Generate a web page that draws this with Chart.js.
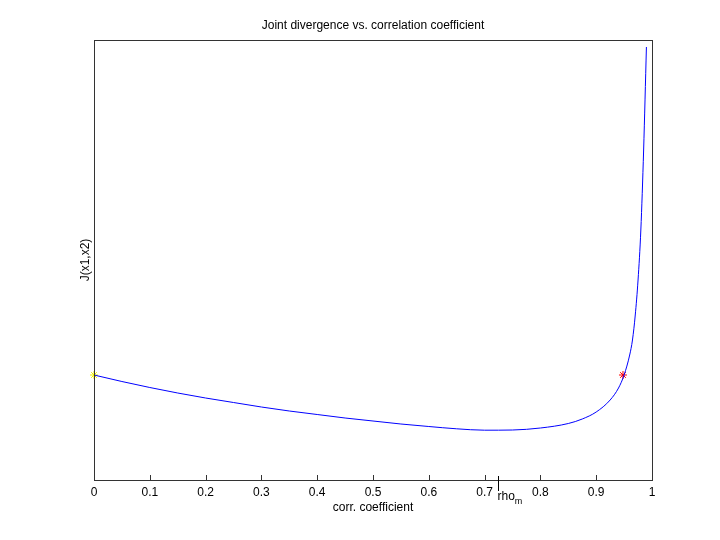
<!DOCTYPE html>
<html>
<head>
<meta charset="utf-8">
<title>Joint divergence vs. correlation coefficient</title>
<script src="https://cdn.jsdelivr.net/npm/chart.js@4/dist/chart.umd.min.js"></script>
<style>
  html, body { margin: 0; padding: 0; background: #fff; }
  canvas { display: block; }
</style>
</head>
<body>
<canvas id="chart" width="720" height="540"></canvas>
<script>
// correlation coefficient (x) and joint divergence J(x1,x2) (y, arbitrary units)
var rho = [0, 0.05, 0.1, 0.15, 0.2, 0.25, 0.3, 0.35, 0.4, 0.45, 0.5, 0.55, 0.6, 0.65, 0.7,
           0.75, 0.8, 0.85, 0.875, 0.9, 0.925, 0.94, 0.95, 0.96, 0.965, 0.97, 0.975, 0.98, 0.985, 0.99];
var jointDiv = [105, 98.5, 92.5, 87, 82, 77.5, 73, 69, 65.5, 62, 59, 56, 53.5, 51.2, 49.8,
                50, 52, 56.5, 61, 68, 80, 92, 105, 125, 140, 165, 200, 250, 330, 433];
var startMark = [{ x: 0, y: 105 }];
var equalMark = [{ x: 0.948, y: 105 }];
var rhoM = 0.724;
var xTickStep = 0.1;

var FONT = 'Helvetica, "Liberation Sans", Arial, sans-serif';

var linePoints = rho.map(function(r, i) { return { x: r, y: jointDiv[i] }; });

// box round the plot, inward ticks and the rho_m mark
var framePlugin = {
    id: 'frame',
    afterDraw: function(chart) {
        var ctx = chart.ctx;
        var a = chart.chartArea;
        var xs = chart.scales.x;
        ctx.save();
        ctx.strokeStyle = '#333';
        ctx.lineWidth = 1;
        ctx.strokeRect(Math.round(a.left) + 0.5, Math.round(a.top) + 0.5,
                       Math.round(a.right - a.left), Math.round(a.bottom - a.top));
        ctx.beginPath();
        xs.ticks.forEach(function(t, i) {
            var px = Math.round(xs.getPixelForTick(i)) + 0.5;
            ctx.moveTo(px, a.bottom);
            ctx.lineTo(px, a.bottom - 5);
        });
        ctx.stroke();

        var mx = Math.round(xs.getPixelForValue(rhoM)) + 0.5;
        ctx.strokeStyle = '#000';
        ctx.beginPath();
        ctx.moveTo(mx, a.bottom - 4);
        ctx.lineTo(mx, a.bottom + 11);
        ctx.stroke();
        ctx.fillStyle = '#000';
        ctx.textBaseline = 'middle';
        ctx.textAlign = 'left';
        ctx.font = '12px ' + FONT;
        ctx.fillText('rho', mx - 1, a.bottom + 17);
        var w = ctx.measureText('rho').width;
        ctx.font = '9px ' + FONT;
        ctx.fillText('m', mx - 1 + w, a.bottom + 22);
        ctx.restore();
    }
};

new Chart(document.getElementById('chart'), {
    type: 'line',
    data: {
        datasets: [{
            data: linePoints,
            borderColor: '#0000ff',
            borderWidth: 1,
            pointRadius: 0,
            fill: false,
            cubicInterpolationMode: 'monotone'
        }, {
            data: startMark,
            showLine: false,
            clip: false,
            pointStyle: 'star',
            pointRadius: 4,
            borderColor: '#f0f000',
            borderWidth: 1
        }, {
            data: equalMark,
            showLine: false,
            pointStyle: 'star',
            pointRadius: 4,
            borderColor: '#ff0000',
            borderWidth: 1
        }]
    },
    options: {
        responsive: false,
        animation: false,
        layout: { padding: { left: 0, right: 68, top: 0, bottom: 0 } },
        scales: {
            x: {
                type: 'linear',
                min: 0,
                max: 1,
                grid: { display: false, drawTicks: false },
                border: { display: false },
                ticks: {
                    stepSize: xTickStep,
                    padding: 5,
                    color: '#000',
                    font: { family: FONT, size: 12 },
                    callback: function(v) { return String(Number(v.toFixed(1))); }
                },
                title: {
                    display: true,
                    text: 'corr. coefficient',
                    color: '#000',
                    font: { family: FONT, size: 12 },
                    padding: { top: 0, bottom: 25 }
                },
                afterFit: function(s) { s.height = 60; }
            },
            y: {
                min: 0,
                max: 440,
                grid: { display: false, drawTicks: false },
                border: { display: false },
                ticks: { display: false },
                title: {
                    display: true,
                    text: 'J(x1,x2)',
                    color: '#000',
                    font: { family: FONT, size: 12 },
                    padding: { top: 78, bottom: 0 }
                },
                afterFit: function(s) { s.width = 94; }
            }
        },
        plugins: {
            legend: { display: false },
            tooltip: { enabled: false },
            title: {
                display: true,
                fullSize: false,
                text: 'Joint divergence vs. correlation coefficient',
                color: '#000',
                font: { family: FONT, size: 12, weight: 'normal' },
                padding: { top: 18, bottom: 7.6 }
            }
        }
    },
    plugins: [framePlugin]
});
</script>
</body>
</html>
